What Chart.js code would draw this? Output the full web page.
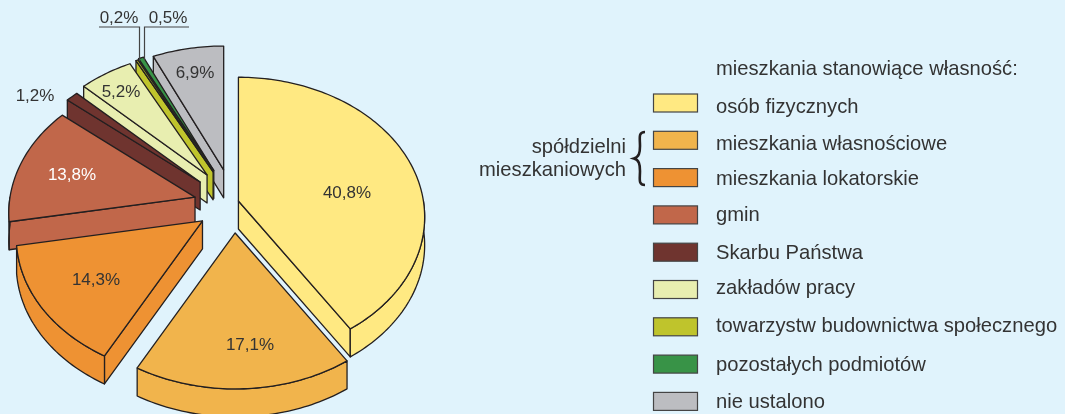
<!DOCTYPE html>
<html lang="pl">
<head>
<meta charset="utf-8">
<title>Mieszkania</title>
<script src="https://cdn.jsdelivr.net/npm/chart.js@4"></script>
<style>
    html, body { margin: 0; padding: 0; background: #e0f3fc; }
    canvas { display: block; }
</style>
</head>
<body>
<canvas id="pieChart" width="1065" height="414"></canvas>
<script>
const categories = ['osób fizycznych', 'mieszkania własnościowe', 'mieszkania lokatorskie', 'gmin', 'Skarbu Państwa', 'zakładów pracy', 'towarzystw budownictwa społecznego', 'pozostałych podmiotów', 'nie ustalono'];
const values = [40.8, 17.1, 14.3, 13.8, 1.2, 5.2, 0.2, 0.5, 6.9];
const colors = ['#ffe982', '#f1b44c', '#ee9233', '#c1674a', '#6f342f', '#e8eeb0', '#bfc42c', '#389347', '#bcbdc1'];

// wysunięcie wycinków i drobne korekty
const explode = [14, 29, 29, 31, 36, 35, 35, 35, 34];
const nudge = [[-1, 1], [8, 0], [0, 0], [-1, 1], [1, 2], [2, -1], [3, -1], [3, -2], [5, -1]];

// pozycje etykiet procentowych
const labelX = [347, 250, 96, 72, 35, 121, 119, 168, 195];
const labelY = [193, 345, 280, 175, 96, 92, 18, 18, 73];

// linie bazowe tekstu w legendzie
const legendBaseline = [112.5, 150, 185, 221, 259, 294, 331.5, 370.5, 408];

const lineColor = '#231f20';
const textColor = '#333333';
const pieFont = '17px "Liberation Sans"';
const legendFont = '20.2px "Liberation Sans"';

// rzut perspektywiczny koła
const pieRx = 185, pieRy = 138, tilt = 0.115, depth = 28;

function project(ox, oy, theta) {
    const w = 1 + tilt * Math.cos(theta);
    return [ox + pieRx * Math.sin(theta) / w, oy - pieRy * Math.cos(theta) / w];
}

function arcPoints(ox, oy, from, to) {
    const steps = Math.max(2, Math.ceil((to - from) / 0.02));
    const pts = [];
    for (let i = 0; i <= steps; i++) {
        pts.push(project(ox, oy, from + (to - from) * i / steps));
    }
    return pts;
}

function shape(ctx, pts, fill) {
    ctx.beginPath();
    pts.forEach((p, i) => i ? ctx.lineTo(p[0], p[1]) : ctx.moveTo(p[0], p[1]));
    ctx.closePath();
    ctx.fillStyle = fill;
    ctx.fill();
    ctx.stroke();
}

const pie3d = {
    id: 'pie3d',
    beforeDatasetsDraw(chart) {
        const ctx = chart.ctx;
        const arcs = chart.getDatasetMeta(0).data;
        ctx.save();
        ctx.strokeStyle = lineColor;
        ctx.lineWidth = 1.3;
        ctx.lineJoin = 'round';

        for (let i = arcs.length - 1; i >= 0; i--) {
            const arc = arcs[i];
            const from = arc.startAngle + Math.PI / 2;
            const to = arc.endAngle + Math.PI / 2;
            const mid = (from + to) / 2;
            const off = arc.options.offset;
            const ox = arc.x + off * Math.sin(mid) + nudge[i][0];
            const oy = arc.y - off * Math.cos(mid) + nudge[i][1];
            const fill = colors[i];
            const a = project(ox, oy, from);
            const b = project(ox, oy, to);

            // ściana boczna: po lewej stronie widać początek wycinka, po prawej koniec
            if (from >= Math.PI) {
                shape(ctx, [[ox, oy], a, [a[0], a[1] + depth], [ox, oy + depth]], fill);
            }
            if (to <= Math.PI) {
                shape(ctx, [[ox, oy], b, [b[0], b[1] + depth], [ox, oy + depth]], fill);
            }

            // obrzeże, tylko z przodu
            const rimFrom = Math.max(from, Math.PI / 2);
            const rimTo = Math.min(to, Math.PI * 1.5);
            if (rimTo > rimFrom) {
                const rim = arcPoints(ox, oy, rimFrom, rimTo);
                const lower = rim.map(p => [p[0], p[1] + depth]).reverse();
                shape(ctx, rim.concat(lower), fill);
            }

            // wierzch
            shape(ctx, [[ox, oy]].concat(arcPoints(ox, oy, from, to)), fill);
        }
        ctx.restore();
        return false;
    },
    afterDraw(chart) {
        const ctx = chart.ctx;
        ctx.save();
        ctx.font = pieFont;
        ctx.textBaseline = 'middle';
        ctx.textAlign = 'center';
        values.forEach((value, i) => {
            ctx.fillStyle = i === 3 ? '#ffffff' : textColor;
            const text = value.toFixed(1).replace('.', ',') + '%';
            ctx.fillText(text, labelX[i], labelY[i]);
        });

        // linie odniesienia
        ctx.strokeStyle = '#444444';
        ctx.lineWidth = 1.2;
        ctx.beginPath();
        ctx.moveTo(99, 27);
        ctx.lineTo(139.5, 27);
        ctx.lineTo(139.5, 61);
        ctx.moveTo(189, 27);
        ctx.lineTo(144.5, 27);
        ctx.lineTo(144.5, 60);
        ctx.stroke();

        // legenda
        const rowTop = 94, rowStep = 37.3;
        ctx.font = legendFont;
        ctx.textAlign = 'left';
        ctx.textBaseline = 'alphabetic';
        ctx.fillStyle = textColor;
        ctx.fillText('mieszkania stanowiące własność:', 716, 75);
        categories.forEach((name, i) => {
            const y = rowTop + i * rowStep;
            ctx.fillStyle = colors[i];
            ctx.strokeStyle = '#444444';
            ctx.lineWidth = 1.2;
            ctx.fillRect(653.5, y, 44, 18);
            ctx.strokeRect(653.5, y, 44, 18);
            ctx.fillStyle = textColor;
            ctx.fillText(name, 716, legendBaseline[i]);
        });

        // klamra
        ctx.textAlign = 'right';
        ctx.fillText('spółdzielni', 626, 153);
        ctx.fillText('mieszkaniowych', 626, 176);
        ctx.strokeStyle = lineColor;
        ctx.lineWidth = 2.6;
        ctx.beginPath();
        ctx.moveTo(645, 132);
        ctx.bezierCurveTo(638, 132, 640, 138, 640, 146);
        ctx.bezierCurveTo(640, 153, 639, 157, 634, 158.5);
        ctx.bezierCurveTo(639, 160, 640, 164, 640, 171);
        ctx.bezierCurveTo(640, 179, 638, 185, 645, 185);
        ctx.stroke();
        ctx.restore();
    }
};

document.addEventListener('DOMContentLoaded', () => {
    new Chart(document.getElementById('pieChart'), {
        type: 'pie',
        data: {
            labels: categories,
            datasets: [{
                data: values,
                backgroundColor: colors,
                borderColor: lineColor,
                borderWidth: 1,
                offset: explode
            }]
        },
        options: {
            responsive: false,
            animation: false,
            layout: { padding: { right: 613, bottom: 6 } },
            plugins: {
                legend: { display: false },
                tooltip: { enabled: false }
            }
        },
        plugins: [pie3d]
    });
});
</script>
</body>
</html>
